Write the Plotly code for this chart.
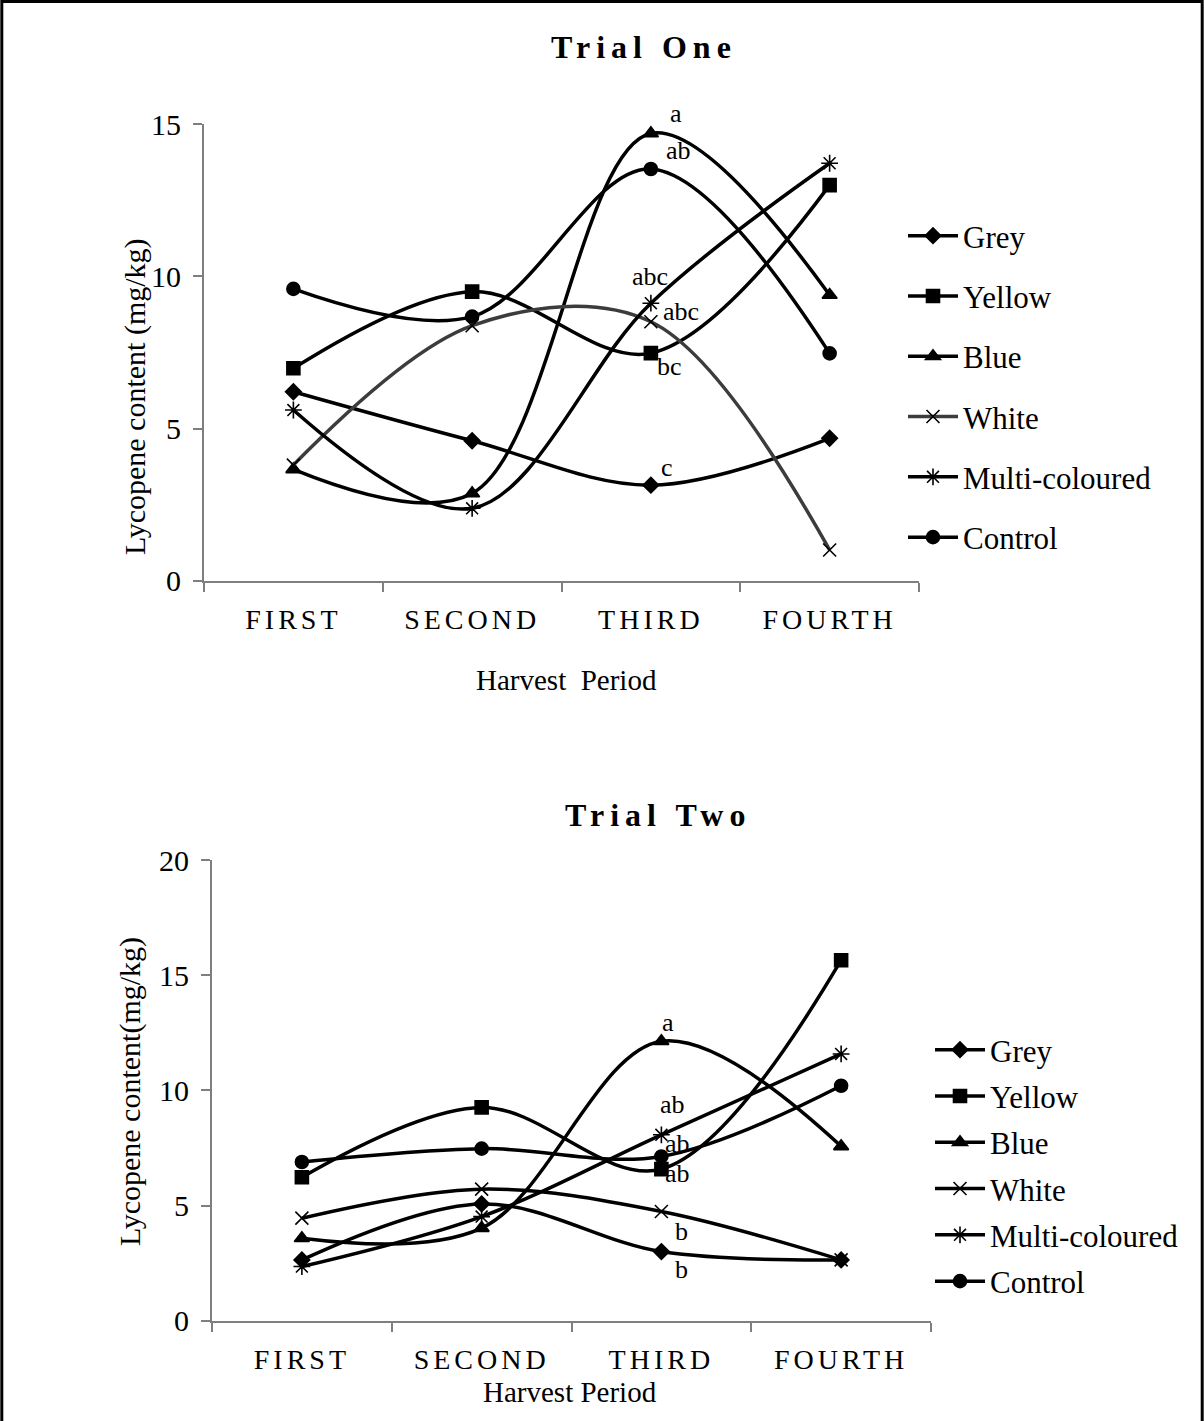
import plotly.graph_objects as go

# Harvest periods (x categories)
periods = ["FIRST", "SECOND", "THIRD", "FOURTH"]
treatments = ["Grey", "Yellow", "Blue", "White", "Multi-coloured", "Control"]

# Trial one lycopene content (mg/kg)
t1_grey = [6.21, 4.60, 3.14, 4.68]
t1_yellow = [6.98, 9.50, 7.48, 13.00]
t1_blue = [3.66, 2.87, 14.70, 9.39]
t1_white = [3.80, 8.38, 8.51, 1.01]
t1_multi = [5.61, 2.38, 9.12, 13.72]
t1_control = [9.59, 8.68, 13.53, 7.47]

# Trial two lycopene content (mg/kg)
t2_grey = [2.64, 5.07, 3.00, 2.64]
t2_yellow = [6.23, 9.26, 6.58, 15.65]
t2_blue = [3.58, 4.02, 12.13, 7.57]
t2_white = [4.45, 5.71, 4.74, 2.64]
t2_multi = [2.35, 4.52, 8.07, 11.58]
t2_control = [6.89, 7.47, 7.13, 10.20]

# Significance letters at the third harvest: (treatment, letter, x shift, y shift)
t1_letters = [("Blue", "a", 25, 20), ("Control", "ab", 28, 19), ("Multi-coloured", "abc", -1, 27),
              ("White", "abc", 30, 10), ("Yellow", "bc", 19, -13), ("Grey", "c", 16, 18)]
t2_letters = [("Blue", "a", 7, 19), ("Multi-coloured", "ab", 11, 30), ("Control", "ab", 16, 13),
              ("Yellow", "ab", 16, -4), ("White", "b", 20, -20), ("Grey", "b", 20, -18)]

symbols = {"Grey": "diamond", "Yellow": "square", "Blue": "triangle-up",
           "White": "x-thin-open", "Multi-coloured": "asterisk-open", "Control": "circle"}
sizes = {"Grey": 12, "Yellow": 13, "Blue": 13, "White": 13, "Multi-coloured": 14, "Control": 13}

FONT = "Liberation Serif, Times New Roman, serif"
W, H = 1204, 1421

trial1 = dict(zip(treatments, [t1_grey, t1_yellow, t1_blue, t1_white, t1_multi, t1_control]))
trial2 = dict(zip(treatments, [t2_grey, t2_yellow, t2_blue, t2_white, t2_multi, t2_control]))

fig = go.Figure()


def add_trial(data, xa, ya, legend, line_colours):
    for name in treatments:
        colour = line_colours.get(name, "black")
        fig.add_trace(go.Scatter(
            x=periods, y=data[name], name=name, xaxis=xa, yaxis=ya,
            mode="lines+markers", legend=legend, legendgroup=legend + name,
            line=dict(color=colour, width=3.5, shape="spline", smoothing=1.0),
            marker=dict(symbol=symbols[name], size=sizes[name], color="black",
                        line=dict(color="black", width=1.6)),
        ))


add_trial(trial1, "x", "y", "legend", {"White": "#3c3c3c"})
add_trial(trial2, "x2", "y2", "legend2", {})

for name, letter, dx, dy in t1_letters:
    fig.add_annotation(x="THIRD", y=trial1[name][2], xref="x", yref="y", text=letter,
                       showarrow=False, xshift=dx, yshift=dy,
                       font=dict(family=FONT, size=26, color="black"))
for name, letter, dx, dy in t2_letters:
    fig.add_annotation(x="THIRD", y=trial2[name][2], xref="x2", yref="y2", text=letter,
                       showarrow=False, xshift=dx, yshift=dy,
                       font=dict(family=FONT, size=26, color="black"))

spaced = ['<span style="letter-spacing:4px">%s</span>' % p for p in periods]

axis_common = dict(showline=True, linecolor="#7f7f7f", linewidth=2, ticks="outside",
                   tickcolor="#7f7f7f", tickwidth=2, ticklen=9, showgrid=False, zeroline=False,
                   automargin=False)
xfont = dict(family=FONT, size=28, color="black")
yfont = dict(family=FONT, size=30, color="black")

fig.update_layout(
    template="none",
    width=W, height=H, margin=dict(l=0, r=0, t=0, b=0, pad=0), autosize=False,
    paper_bgcolor="white", plot_bgcolor="white", showlegend=True,
    font=dict(family=FONT, color="black"),
    xaxis=dict(domain=[204 / W, 919 / W], anchor="y", type="category", tickson="boundaries",
               range=[-0.5, 3.5], tickvals=periods, ticktext=spaced, tickfont=xfont,
               ticklabelstandoff=13, **axis_common),
    yaxis=dict(domain=[1 - 580.7 / H, 1 - 124.3 / H], anchor="x", range=[0, 15],
               tickvals=[0, 5, 10, 15], tickfont=yfont, ticklabelstandoff=6, **axis_common),
    xaxis2=dict(domain=[212 / W, 931 / W], anchor="y2", type="category", tickson="boundaries",
                range=[-0.5, 3.5], tickvals=periods, ticktext=spaced, tickfont=xfont,
                ticklabelstandoff=13, **axis_common),
    yaxis2=dict(domain=[1 - 1320.7 / H, 1 - 860 / H], anchor="x2", range=[0, 20],
                tickvals=[0, 5, 10, 15, 20], tickfont=yfont, ticklabelstandoff=6, **axis_common),
    legend=dict(x=903 / W, y=1 - 209 / H, xanchor="left", yanchor="top",
                traceorder="grouped", tracegroupgap=17, bgcolor="rgba(0,0,0,0)",
                font=dict(family=FONT, size=31, color="black"), itemwidth=50),
    legend2=dict(x=930 / W, y=1 - 1023 / H, xanchor="left", yanchor="top",
                 traceorder="grouped", tracegroupgap=3, bgcolor="rgba(0,0,0,0)",
                 font=dict(family=FONT, size=31, color="black"), itemwidth=50),
)


def paper_text(text, px, py, size, angle=0):
    fig.add_annotation(x=px / W, y=1 - py / H, xref="paper", yref="paper", showarrow=False,
                       xanchor="center", yanchor="middle",
                       text=text, textangle=angle, font=dict(family=FONT, size=size, color="black"))


# Panel titles
paper_text('<span style="letter-spacing:6px"><b>Trial One</b></span>', 644, 47, 32)
paper_text('<span style="letter-spacing:6px"><b>Trial Two</b></span>', 658, 815, 32)

# Axis titles
paper_text("Harvest  Period", 566, 680, 29)
paper_text("Harvest Period", 570, 1392, 29)
paper_text("Lycopene content (mg/kg)", 135, 397, 30, angle=-90)
paper_text("Lycopene content(mg/kg)", 130, 1092, 30, angle=-90)

# Outer frame
fig.add_shape(type="rect", xref="paper", yref="paper", x0=0.0015, y0=-0.01, x1=0.9985, y1=0.999,
              line=dict(color="black", width=3), fillcolor="rgba(0,0,0,0)", layer="above")

fig.write_html("out.html")
